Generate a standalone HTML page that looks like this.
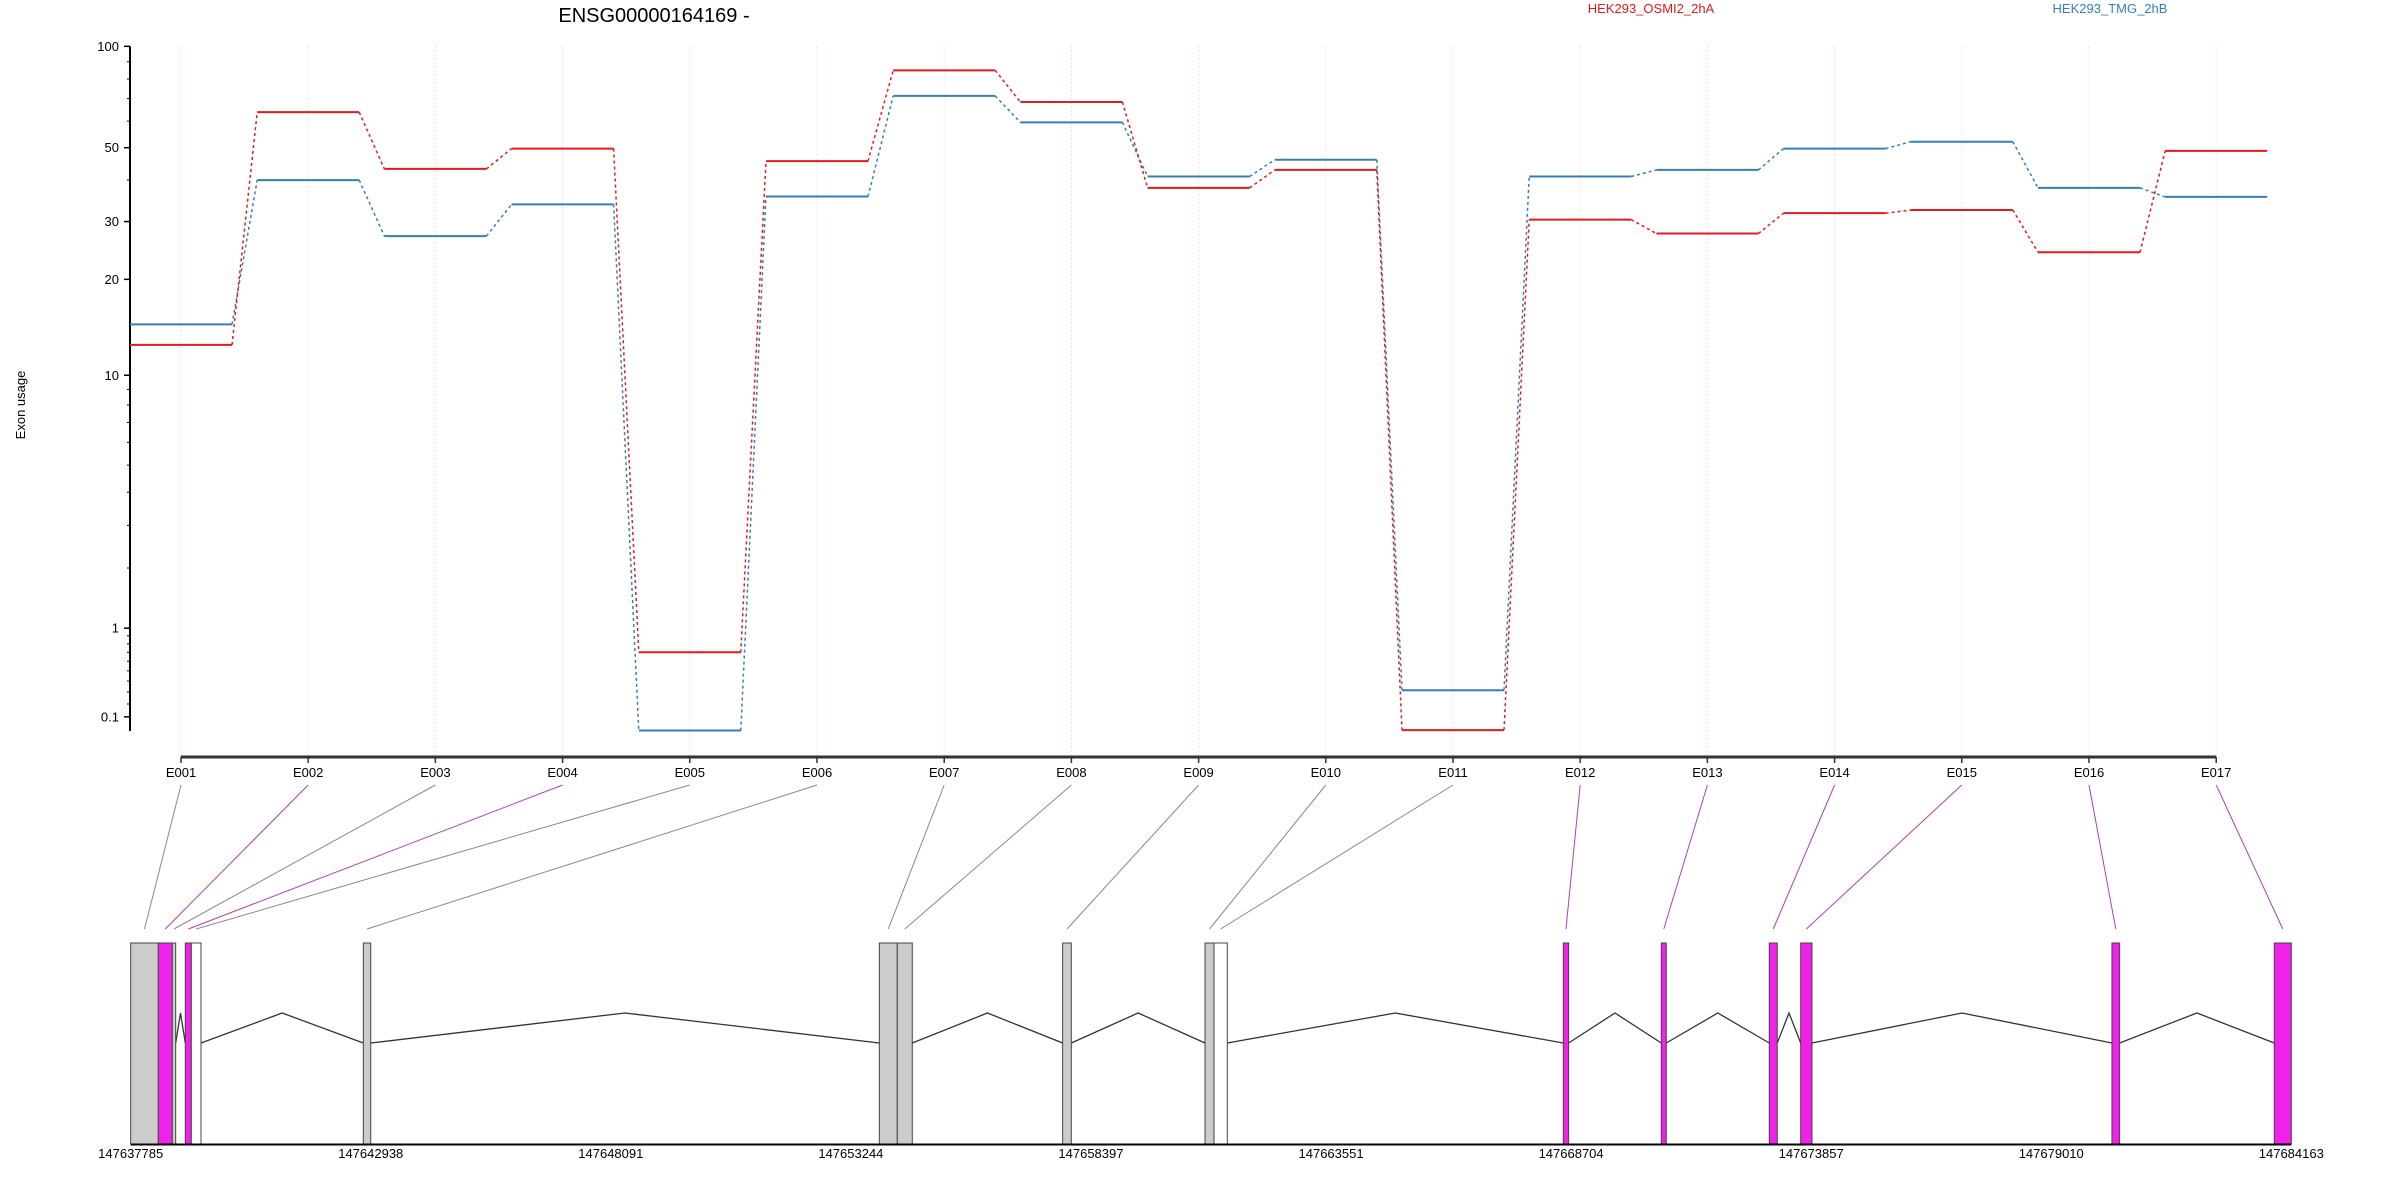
<!DOCTYPE html>
<html><head><meta charset="utf-8">
<style>
html,body{margin:0;padding:0;background:#fff;}
svg{display:block;font-family:"Liberation Sans",Arial,sans-serif;}
</style></head>
<body>
<svg id="chart" width="2400" height="1200" viewBox="0 0 2400 1200" xmlns="http://www.w3.org/2000/svg">
<text x="654" y="22" font-size="20" text-anchor="middle">ENSG00000164169 -</text>
<text x="1651" y="13" font-size="13" fill="#e41a1c" text-anchor="middle">HEK293_OSMI2_2hA</text>
<text x="2110" y="13" font-size="13" fill="#377eb8" text-anchor="middle">HEK293_TMG_2hB</text>
<text x="0" y="0" font-size="13" text-anchor="middle" transform="translate(25,405) rotate(-90)">Exon usage</text>
<g id="grid"></g><g id="yaxis"></g><g id="xaxis"></g><g id="series"></g><g id="gene"></g>
</svg>
<script>
const exons = ["E001","E002","E003","E004","E005","E006","E007","E008","E009","E010","E011","E012","E013","E014","E015","E016","E017"];
const osmiValues = [12.5,63.8,43.2,49.7,0.7,45.6,84.9,68.4,37.9,42.9,0.006,30.4,27.6,31.8,32.5,24.2,48.9];
const tmgValues = [14.5,40.0,27.1,33.8,0.003,35.7,71.3,59.5,41.0,46.0,0.316,41.0,42.9,49.7,52.1,37.9,35.6];
const yTickLabels = [0.1,1,10,20,30,50,100];
const yMinorTicks = [0.2,0.3,0.4,0.5,0.6,0.7,0.8,0.9,2,3,4,5,6,7,8,9,40,60,70,80,90];
const genomicTicks = ["147637785","147642938","147648091","147653244","147658397","147663551","147668704","147673857","147679010","147684163"];
const geneStart = 147637785, geneEnd = 147684163;
const binStarts = [147637785,147638377,147638678,147638957,147639086,147642778,147653854,147654240,147657790,147660845,147661038,147668536,147670639,147672958,147673632,147680313,147683797];
const binEnds   = [147638377,147638678,147638751,147639086,147639294,147642937,147654240,147654562,147657975,147661038,147661324,147668651,147670747,147673129,147673874,147680478,147684163];
const binTypes  = [0,1,0,1,2,0,0,0,0,0,2,1,1,1,1,1,1];

const NS="http://www.w3.org/2000/svg";
function mk(tag,attrs,parent){const e=document.createElementNS(NS,tag);for(const k in attrs)e.setAttribute(k,attrs[k]);parent.appendChild(e);return e;}
const yBase=731, yScale=341.6;
function yPos(v){return yBase-Math.log10(v+1)*yScale;}
const x0=181, dx=127.2;
function xPos(i){return x0+i*dx;}
const gx0=130.7, gx1=2291.3;
function gPos(g){return gx0+(g-geneStart)/(geneEnd-geneStart)*(gx1-gx0);}

const grid=document.getElementById('grid');
const yaxis=document.getElementById('yaxis');
const xaxis=document.getElementById('xaxis');
const series=document.getElementById('series');
const gene=document.getElementById('gene');

exons.forEach((e,i)=>{
  const l=mk('line',{x1:xPos(i),x2:xPos(i),y1:46,y2:756,stroke:'#f0e0e8','stroke-width':1,'stroke-dasharray':'2,2'},grid);
  
  
});
const ya=mk('line',{x1:130,x2:130,y1:yPos(100),y2:yBase,stroke:'#000','stroke-width':2},yaxis);


yTickLabels.forEach(v=>{
  const y=yPos(v);
  const t=mk('line',{x1:124,x2:130,y1:y,y2:y,stroke:'#000','stroke-width':1.5},yaxis);
  
  
  const tx=mk('text',{x:119,y:y+4.5,'font-size':13,'text-anchor':'end'},yaxis);
  tx.textContent=String(v);
  
  
});
yMinorTicks.forEach(v=>{
  const y=yPos(v);
  const t=mk('line',{x1:127,x2:130,y1:y,y2:y,stroke:'#000','stroke-width':1},yaxis);
  
  
});
const xa=mk('line',{x1:xPos(0),x2:xPos(exons.length-1),y1:757,y2:757,stroke:'#333','stroke-width':3},xaxis);


exons.forEach((e,i)=>{
  const t=mk('line',{x1:xPos(i),x2:xPos(i),y1:757,y2:763,stroke:'#333','stroke-width':1.5},xaxis);
  
  
  const tx=mk('text',{x:xPos(i),y:777,'font-size':13,'text-anchor':'middle'},xaxis);
  tx.textContent=e;
  
  
});
function drawSeries(vals,color,name){
  const hw=51;
  vals.forEach((v,i)=>{
    const y=yPos(v);
    const s=mk('line',{x1:xPos(i)-hw,x2:xPos(i)+hw,y1:y,y2:y,stroke:color,'stroke-width':2},series);
    
    
    if(i<vals.length-1){
      const c=mk('line',{x1:xPos(i)+hw,x2:xPos(i+1)-hw,y1:y,y2:yPos(vals[i+1]),stroke:color,'stroke-width':1.5,'stroke-dasharray':'3,3'},series);
      
      
    }
  });
}
drawSeries(tmgValues,'#377eb8','tmg');
drawSeries(osmiValues,'#e41a1c','osmi2');

const boxTop=943, boxBot=1144, intBase=1043, intPeak=1013;
const fills=['#cccccc','#f021e8','#ffffff'];
binStarts.forEach((s,i)=>{
  const a=gPos(s), b=gPos(binEnds[i]);
  const cx=(a+b)/2;
  const con=mk('line',{x1:xPos(i),y1:785,x2:cx,y2:929,stroke:binTypes[i]===1?'#b040b0':'#888','stroke-width':1},gene);
  
  
});
for(let i=0;i<binStarts.length-1;i++){
  const a=gPos(binEnds[i]), b=gPos(binStarts[i+1]);
  if(b-a<2) continue;
  const p=mk('polyline',{points:`${a},${intBase} ${(a+b)/2},${intPeak} ${b},${intBase}`,fill:'none',stroke:'#333','stroke-width':1.3},gene);
  
  
}
binStarts.forEach((s,i)=>{
  const a=gPos(s), b=gPos(binEnds[i]);
  const r=mk('rect',{x:a,y:boxTop,width:b-a,height:boxBot-boxTop,fill:fills[binTypes[i]],stroke:'#444','stroke-width':1},gene);
  
  
});
const ga=mk('line',{x1:gx0,x2:gx1,y1:1144.5,y2:1144.5,stroke:'#000','stroke-width':2},gene);


genomicTicks.forEach(t=>{
  const tx=mk('text',{x:gPos(+t),y:1158,'font-size':13,'text-anchor':'middle'},gene);
  tx.textContent=t;
  
  
});
</script>
</body></html>
